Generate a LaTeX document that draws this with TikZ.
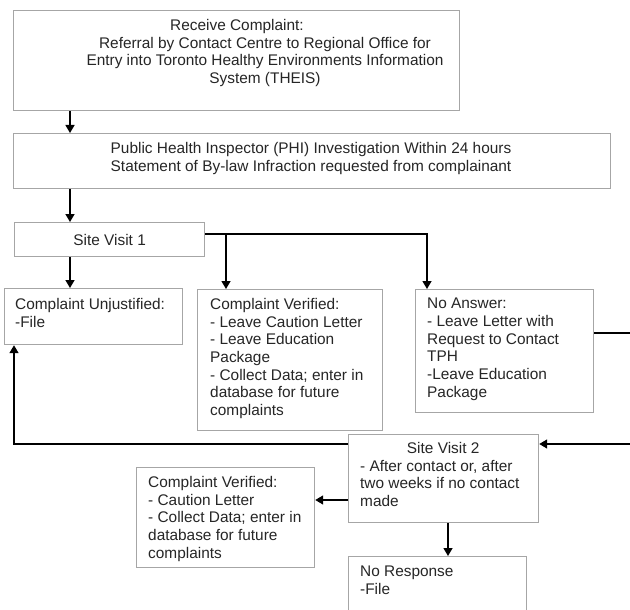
\documentclass[tikz,border=0pt]{standalone}
\usepackage{fontspec}
\setmainfont{Liberation Sans}
\usetikzlibrary{arrows.meta}

\tikzset{
  flowbox/.style={draw=black!35, line width=1.2pt, inner sep=0pt, anchor=north west},
  boxtext/.style={inner sep=0pt, align=left, anchor=north west, text=black!85},
  conn/.style={line width=1.4pt, -{Triangle[length=8pt,width=9pt]}}
}

\begin{document}
\begin{tikzpicture}[x=1pt, y=-1pt, font=\fontsize{15.4}{17.7}\selectfont]

  \useasboundingbox[fill=white] (0,0) rectangle (630,610);

  % boxes
  \node[flowbox, minimum width=446, minimum height=100] (receive) at (13,10) {};
  \node[flowbox, minimum width=597, minimum height=55] (phi) at (13,133) {};
  \node[flowbox, minimum width=190, minimum height=34, text=black!85] (visit1) at (14,222) {Site Visit 1};
  \node[flowbox, minimum width=178, minimum height=56] (unjust) at (4,288) {};
  \node[flowbox, minimum width=185, minimum height=141] (verified) at (197,289) {};
  \node[flowbox, minimum width=178, minimum height=123] (noanswer) at (415,289) {};
  \node[flowbox, minimum width=190, minimum height=88] (visit2) at (348,434) {};
  \node[flowbox, minimum width=178, minimum height=100] (verified2) at (136,467) {};
  \node[flowbox, minimum width=178, minimum height=70] (noresp) at (348,556) {};

  % texts
  \node[boxtext, align=center, anchor=north] (receive-t) at (265,19)
    {Receive Complaint:\hspace*{56pt}\\
     Referral by Contact Centre to Regional Office for\\
     Entry into Toronto Healthy Environments Information\\
     System (THEIS)};
  \node[boxtext, align=center, anchor=north] (phi-t) at (311,142)
    {Public Health Inspector (PHI) Investigation Within 24 hours\\
     Statement of By-law Infraction requested from complainant};
  \node[boxtext] (unjust-t) at (15,298) {Complaint Unjustified:\\-File};
  \node[boxtext] (verified-t) at (210,298)
    {Complaint Verified:\\- Leave Caution Letter\\- Leave Education\\Package\\
     - Collect Data; enter in\\database for future\\complaints};
  \node[boxtext] (noanswer-t) at (427,298)
    {No Answer:\\- Leave Letter with\\Request to Contact\\TPH\\-Leave Education\\Package};
  \node[boxtext] (visit2-t) at (360,442)
    {\makebox[166pt]{Site Visit 2}\\- After contact or, after\\two weeks if no contact\\made};
  \node[boxtext] (verified2-t) at (148,476)
    {Complaint Verified:\\- Caution Letter\\- Collect Data; enter in\\database for future\\complaints};
  \node[boxtext] (noresp-t) at (360,566) {No Response\\-File};

  % connector rails
  \coordinate (trunk) at (70,0);
  \coordinate (cvdrop) at (226,0);
  \coordinate (nadrop) at (427,0);
  \coordinate (nrdrop) at (448,0);
  \coordinate (cuup) at (14,0);
  \coordinate (offright) at (645,0);
  \coordinate (bus) at (0,234);
  \coordinate (naout) at (0,333);
  \coordinate (backin) at (0,444);
  \coordinate (cv2in) at (0,500);

  \draw[conn] (receive.south -| trunk) -- (phi.north -| trunk);
  \draw[conn] (phi.south -| trunk) -- (visit1.north -| trunk);
  \draw[conn] (visit1.south -| trunk) -- (unjust.north -| trunk);

  \draw[conn] (visit1.east |- bus) -| (nadrop |- noanswer.north);
  \draw[conn] (cvdrop |- bus) -- (cvdrop |- verified.north);

  \draw[conn] (noanswer.east |- naout) -| (offright |- backin) -- (visit2.east |- backin);
  \draw[conn] (visit2.west |- backin) -| (cuup |- unjust.south);
  \draw[conn] (visit2.west |- cv2in) -- (verified2.east |- cv2in);
  \draw[conn] (nrdrop |- visit2.south) -- (nrdrop |- noresp.north);

\end{tikzpicture}
\end{document}
